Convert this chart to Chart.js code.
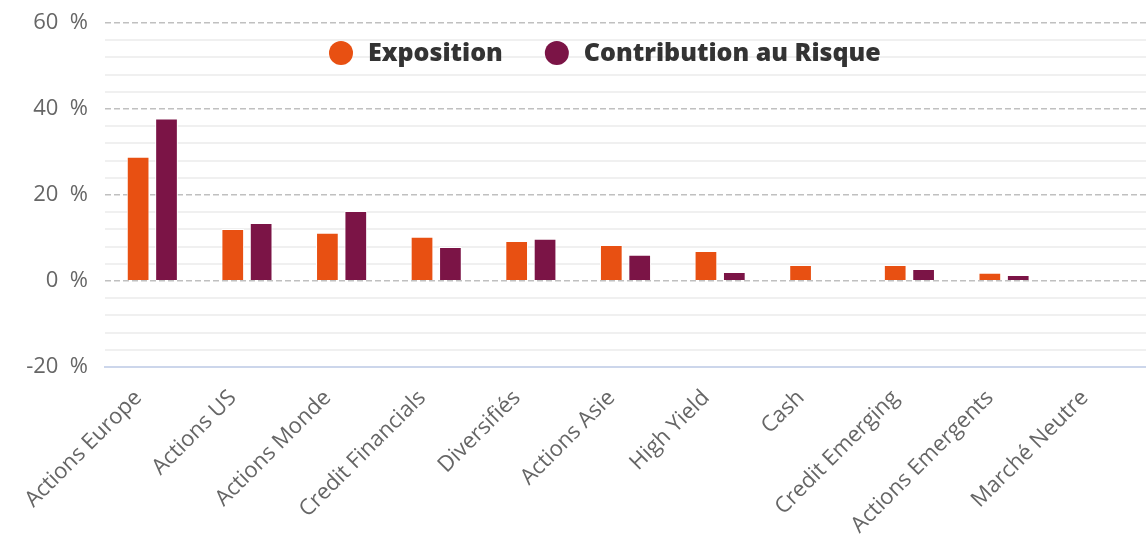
<!DOCTYPE html>
<html>
<head>
<meta charset="utf-8">
<script src="https://cdn.jsdelivr.net/npm/chart.js@4"></script>
<style>
  html, body { margin: 0; padding: 0; background: #fff; }
  #wrap { width: 1146px; height: 546px; }
</style>
</head>
<body>
<div id="wrap"><canvas id="chart" width="1146" height="546"></canvas></div>
<script>
const categories = ['Actions Europe', 'Actions US', 'Actions Monde', 'Credit Financials', 'Diversifiés',
  'Actions Asie', 'High Yield', 'Cash', 'Credit Emerging', 'Actions Emergents', 'Marché Neutre'];
const exposition = [28.9, 12.1, 11.2, 10.3, 9.3, 8.4, 7.0, 3.7, 3.7, 1.9, 0];
const contribution = [37.8, 13.5, 16.3, 7.9, 9.8, 6.1, 2.1, 0, 2.8, 1.4, 0];
const seriesNames = ['Exposition', 'Contribution au Risque'];
const seriesColors = ['#e85012', '#7b1446'];

const FONT = "'Open Sans', sans-serif";

// legend drawn over the plot, like the original
const overlayLegend = {
  id: 'overlayLegend',
  afterDraw(chart) {
    const ctx = chart.ctx;
    ctx.save();
    ctx.font = '800 25px ' + FONT;
    ctx.textBaseline = 'middle';
    let x = 329;
    const y = 53;
    chart.data.datasets.forEach(ds => {
      ctx.fillStyle = ds.backgroundColor;
      ctx.beginPath();
      ctx.arc(x + 12, y, 12, 0, Math.PI * 2);
      ctx.fill();
      ctx.fillStyle = '#333333';
      ctx.fillText(ds.label, x + 39, y + 1);
      x += 39 + ctx.measureText(ds.label).width + 42;
    });
    ctx.restore();
  }
};

new Chart(document.getElementById('chart'), {
  type: 'bar',
  data: {
    labels: categories,
    datasets: [
      { label: seriesNames[0], data: exposition, backgroundColor: seriesColors[0], borderColor: '#ffffff', borderWidth: 1 },
      { label: seriesNames[1], data: contribution, backgroundColor: seriesColors[1], borderColor: '#ffffff', borderWidth: 1 }
    ]
  },
  options: {
    responsive: false,
    animation: false,
    layout: { padding: { top: 23, right: 0, left: 0, bottom: 0 } },
    datasets: { bar: { categoryPercentage: 0.6, barPercentage: 0.8 } },
    plugins: {
      legend: { display: false },
      tooltip: { enabled: false }
    },
    scales: {
      x: {
        grid: { display: false },
        border: { display: true, color: '#ccd6eb', width: 2 },
        ticks: {
          color: '#666666',
          font: { family: FONT, size: 22 },
          minRotation: 45,
          maxRotation: 45,
          autoSkip: false,
          padding: 10,
          labelOffset: -14
        },
        afterFit: s => { s.height = 179; }
      },
      y: {
        min: -20,
        max: 60,
        grid: {
          drawTicks: true,
          tickLength: 13,
          tickColor: 'rgba(0,0,0,0)',
          lineWidth: 2,
          color: c => (c.tick && c.tick.value % 20 === 0) ? 'rgba(0,0,0,0)' : '#f0f0f0'
        },
        border: { display: false },
        ticks: {
          stepSize: 4,
          autoSkip: false,
          padding: 4,
          color: '#666666',
          font: { family: FONT, size: 22 },
          callback: v => (v % 20 === 0) ? v + '  %' : ''
        },
        afterFit: s => { s.width = 105; }
      },
      y2: {
        position: 'left',
        display: true,
        min: -20,
        max: 60,
        grid: {
          drawTicks: false,
          lineWidth: 1.5,
          color: c => (c.tick && c.tick.value === -20) ? 'rgba(0,0,0,0)' : '#c0c0c0'
        },
        border: { display: false, dash: [6, 3] },
        ticks: { stepSize: 20, display: false },
        afterFit: s => { s.width = 0; }
      }
    }
  },
  plugins: [overlayLegend]
});
</script>
</body>
</html>
